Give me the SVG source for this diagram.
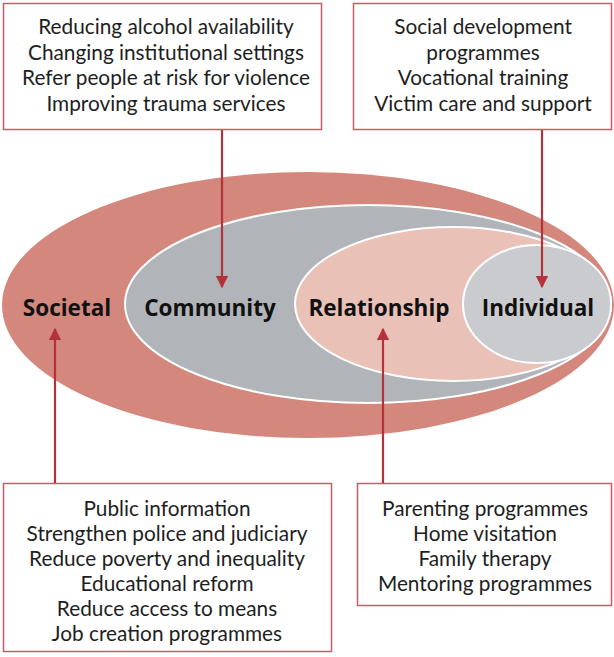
<svg xmlns="http://www.w3.org/2000/svg" width="614" height="657" viewBox="0 0 614 657">
  <style>
    .box { fill: #ffffff; stroke: #cc5a63; stroke-width: 1.5; }
    .item { font-family: "Lato", "Liberation Sans", sans-serif; font-size: 20.8px; fill: #1e1e1e; text-anchor: middle; }
    .level { font-family: "Open Sans", "Liberation Sans", sans-serif; font-weight: bold; font-size: 22.5px; fill: #111111; text-anchor: middle; }
    .ring { stroke: #ffffff; stroke-width: 2; }
    .link { stroke: #b3323c; stroke-width: 2.2; fill: none; }
  </style>
  <defs>
    <marker id="head" viewBox="0 0 10 10" refX="9" refY="5" markerWidth="6.4" markerHeight="5.6" orient="auto" markerUnits="strokeWidth">
      <path d="M0,0 L10,5 L0,10 Z" fill="#b3323c"/>
    </marker>
  </defs>

  <!-- Nested levels of the ecological model -->
  <g id="societal">
    <ellipse cx="308" cy="305" rx="306" ry="133" fill="#d4877c"/>
    <text class="level" x="67" y="316">Societal</text>
  </g>
  <g id="community">
    <ellipse class="ring" cx="368" cy="304" rx="243" ry="99" fill="#b1b5b9"/>
    <text class="level" x="210" y="316">Community</text>
  </g>
  <g id="relationship">
    <ellipse class="ring" cx="453" cy="304" rx="158" ry="77" fill="#eac1b7"/>
    <text class="level" x="379" y="316">Relationship</text>
  </g>
  <g id="individual">
    <ellipse class="ring" cx="537" cy="304" rx="74" ry="59" fill="#c9cbcf"/>
    <text class="level" x="538" y="316">Individual</text>
  </g>

  <!-- Intervention boxes -->
  <g id="community-actions">
    <rect class="box" x="3.5" y="3.5" width="318" height="126"/>
    <text class="item" x="166" y="34">Reducing alcohol availability</text>
    <text class="item" x="166" y="59.5">Changing institutional settings</text>
    <text class="item" x="166" y="85">Refer people at risk for violence</text>
    <text class="item" x="166" y="110.5">Improving trauma services</text>
  </g>
  <g id="individual-actions">
    <rect class="box" x="353.5" y="3.5" width="258" height="126"/>
    <text class="item" x="483" y="34">Social development</text>
    <text class="item" x="483" y="59.5">programmes</text>
    <text class="item" x="483" y="85">Vocational training</text>
    <text class="item" x="483" y="110.5">Victim care and support</text>
  </g>
  <g id="societal-actions">
    <rect class="box" x="3.5" y="483.5" width="328" height="168"/>
    <text class="item" x="167" y="516">Public information</text>
    <text class="item" x="167" y="541">Strengthen police and judiciary</text>
    <text class="item" x="167" y="566">Reduce poverty and inequality</text>
    <text class="item" x="167" y="591">Educational reform</text>
    <text class="item" x="167" y="616">Reduce access to means</text>
    <text class="item" x="167" y="641">Job creation programmes</text>
  </g>
  <g id="relationship-actions">
    <rect class="box" x="357.5" y="483.5" width="254" height="122"/>
    <text class="item" x="485" y="516">Parenting programmes</text>
    <text class="item" x="485" y="541">Home visitation</text>
    <text class="item" x="485" y="566">Family therapy</text>
    <text class="item" x="485" y="591">Mentoring programmes</text>
  </g>

  <!-- Connectors from boxes to levels -->
  <g id="connectors">
    <line class="link" x1="222" y1="130" x2="222" y2="287" marker-end="url(#head)"/>
    <line class="link" x1="542" y1="130" x2="542" y2="287" marker-end="url(#head)"/>
    <line class="link" x1="55" y1="483" x2="55" y2="329" marker-end="url(#head)"/>
    <line class="link" x1="383" y1="483" x2="383" y2="329" marker-end="url(#head)"/>
  </g>
</svg>
